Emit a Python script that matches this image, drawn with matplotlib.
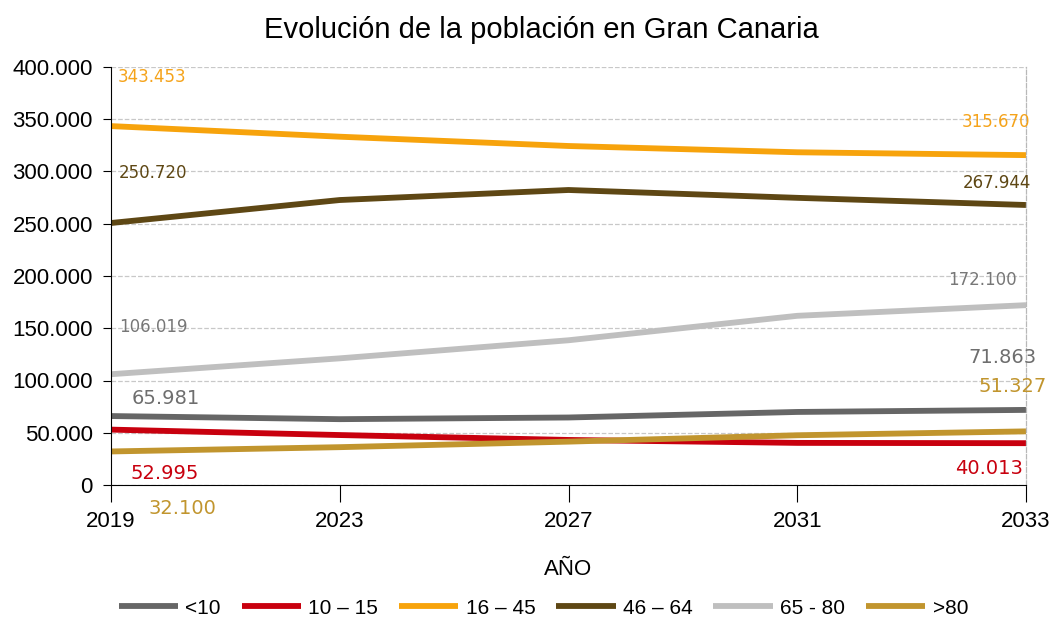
import matplotlib.pyplot as plt
from matplotlib.ticker import FuncFormatter

# datos
years = ['2019', '2023', '2027', '2031', '2033']
menos10 = [65981, 63000, 64600, 69900, 71863]
de10a15 = [52995, 47800, 43100, 40300, 40013]
de16a45 = [343453, 333300, 324400, 318400, 315670]
de46a64 = [250720, 272700, 282300, 274800, 267944]
de65a80 = [106019, 121200, 138500, 161900, 172100]
mas80 = [32100, 36200, 41500, 47600, 51327]

# nombre, valores, color linea, color etiqueta, tamano, desplazamiento inicio, desplazamiento final (px)
series = [
    ('<10', menos10, '#666666', '#6e6e6e', 14, (21, 18), (10, 52)),
    ('10 – 15', de10a15, '#c8000e', '#c8000e', 14, (19, -44), (-3, -25)),
    ('16 – 45', de16a45, '#f7a30c', '#f5a31a', 12, (7, 49), (4, 33)),
    ('46 – 64', de46a64, '#5e4714', '#5e4714', 12, (8, 50), (5, 22)),
    ('65 - 80', de65a80, '#bfbfbf', '#777777', 12, (8, 47), (-9, 25)),
    ('>80', mas80, '#c1952e', '#c1952e', 14, (37, -57), (21, 45)),
]

plt.rcParams['font.family'] = ['Liberation Sans', 'DejaVu Sans']

fig = plt.figure(figsize=(10.51, 6.19), dpi=100)
ax = fig.add_axes([111/1051, 134/619, 915/1051, 418/619])

x = list(range(len(years)))
for name, vals, col, lcol, fs, off0, off1 in series:
    ax.plot(x, vals, color=col, linewidth=4.2, label=name, solid_capstyle='butt')
    ax.annotate(f"{vals[0]:,}".replace(',', '.'), (x[0], vals[0]),
                xytext=off0, textcoords='offset pixels', ha='left', va='center',
                color=lcol, fontsize=fs, family='DejaVu Sans')
    ax.annotate(f"{vals[-1]:,}".replace(',', '.'), (x[-1], vals[-1]),
                xytext=off1, textcoords='offset pixels',
                ha='right', va='center', color=lcol, fontsize=fs,
                family='DejaVu Sans', annotation_clip=False)

ax.set_xlim(0, 4)
ax.set_ylim(0, 400000)
ax.set_xticks(x)
ax.set_xticklabels(years)
ax.set_yticks(range(0, 400001, 50000))
ax.yaxis.set_major_formatter(FuncFormatter(lambda v, p: f"{int(v):,}".replace(',', '.')))
ax.tick_params(axis='y', labelsize=16, length=6, pad=7)
ax.tick_params(axis='x', labelsize=16, length=12, pad=7)
ax.grid(axis='y', linestyle='--', color='#c8c8c8', linewidth=0.9)
ax.set_axisbelow(True)
ax.spines['top'].set_visible(False)
ax.spines['right'].set_linestyle('--')
ax.spines['right'].set_color('#b8b8b8')
ax.spines['right'].set_linewidth(0.9)

ax.set_xlabel('AÑO', fontsize=16, labelpad=19)
fig.text(0.515, 1 - 30/619, 'Evolución de la población en Gran Canaria',
         ha='center', va='center', fontsize=21)

fig.legend(loc='center', bbox_to_anchor=(0.517, 1 - 608/619), ncol=6, frameon=False,
           fontsize=15, handlelength=2.85, handletextpad=0.35, columnspacing=1.0)

plt.savefig('out.png', dpi=100)
